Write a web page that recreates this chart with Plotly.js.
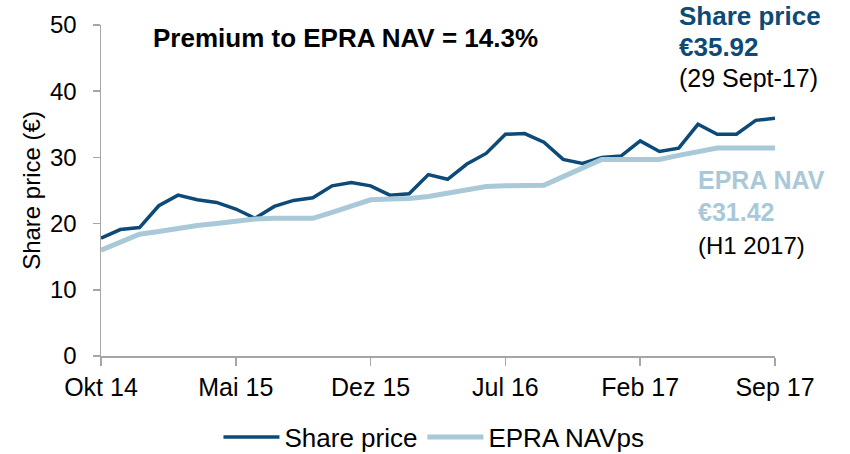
<!DOCTYPE html>
<html>
<head>
<meta charset="utf-8">
<script src="https://cdn.plot.ly/plotly-3.0.1.min.js"></script>
<style>
html,body{margin:0;padding:0;background:#fff;}
#chart{width:850px;height:454px;}
</style>
</head>
<body>
<div id="chart"></div>
<script>
const months = ["Okt 14","Nov 14","Dez 14","Jan 15","Feb 15","Mär 15","Apr 15","Mai 15","Jun 15","Jul 15","Aug 15","Sep 15",
  "Okt 15","Nov 15","Dez 15","Jan 16","Feb 16","Mär 16","Apr 16","Mai 16","Jun 16","Jul 16","Aug 16","Sep 16",
  "Okt 16","Nov 16","Dez 16","Jan 17","Feb 17","Mär 17","Apr 17","Mai 17","Jun 17","Jul 17","Aug 17","Sep 17"];
const sharePrice = [17.8,19.1,19.4,22.7,24.3,23.6,23.2,22.2,20.8,22.6,23.5,23.9,
  25.7,26.2,25.7,24.3,24.5,27.4,26.7,29.0,30.6,33.5,33.6,32.3,
  29.7,29.1,30.0,30.2,32.5,30.9,31.4,35.0,33.5,33.5,35.6,35.92];
const epraNav = [16.0,17.3,18.4,18.8,19.3,19.7,20.0,20.3,20.7,20.8,20.8,20.8,
  21.7,22.7,23.6,23.7,23.8,24.1,24.6,25.1,25.6,25.7,25.7,25.8,
  27.1,28.4,29.7,29.7,29.7,29.7,30.3,30.9,31.42,31.42,31.42,31.42];
const tickLabels = ["Okt 14","Mai 15","Dez 15","Jul 16","Feb 17","Sep 17"];
const yTicks = [0,10,20,30,40,50];

const DARK = '#0d4a78';
const LIGHT = '#a9c9d9';
const FONT = 'Liberation Sans, Arial, sans-serif';

const traces = [
  {x: months, y: sharePrice, type: 'scatter', mode: 'lines', name: 'Share price',
   line: {color: DARK, width: 3.5}},
  {x: months, y: epraNav, type: 'scatter', mode: 'lines', name: 'EPRA NAVps',
   line: {color: LIGHT, width: 5}}
];

const L = 101, T = 25, W = 674, H = 331;
function px(xp){ return (xp - L) / W; }
function py(yp){ return (T + H - yp) / H; }

const layout = {
  width: 850, height: 454,
  margin: {l: L, r: 850 - L - W, t: T, b: 454 - T - H},
  paper_bgcolor: '#fff', plot_bgcolor: '#fff',
  font: {family: FONT, size: 24, color: '#000'},
  showlegend: true,
  legend: {orientation: 'h', x: 0.494, xanchor: 'center', xref: 'paper',
           y: (454 - 437) / 454, yanchor: 'middle', yref: 'container',
           font: {size: 26, color: '#000'}, itemwidth: 56, traceorder: 'normal'},
  xaxis: {type: 'category', range: [0, 35], tickmode: 'array', tickvals: tickLabels, ticktext: tickLabels,
          showgrid: false, zeroline: false, showline: true, linecolor: '#a6a6a6', linewidth: 1.5,
          ticks: 'outside', ticklen: 8, tickcolor: '#a6a6a6', tickwidth: 1.5, automargin: false,
          tickfont: {size: 25, color: '#000'}, ticklabelstandoff: 0},
  yaxis: {range: [0, 50], tickmode: 'array', tickvals: yTicks, automargin: false,
          showgrid: false, zeroline: false, showline: true, linecolor: '#a6a6a6', linewidth: 1.5,
          ticks: 'outside', ticklen: 7, tickcolor: '#a6a6a6', tickwidth: 1.5,
          tickfont: {size: 24, color: '#000'}, ticklabelstandoff: 11,
          title: {text: 'Share price (€)', font: {size: 24, color: '#000'}, standoff: 2}},
  annotations: [
    {text: '<b>Premium to EPRA NAV = 14.3%</b>', xref: 'paper', yref: 'paper', x: px(151), y: py(38),
     xanchor: 'left', yanchor: 'middle', showarrow: false, font: {size: 26, color: '#000'}},
    {text: '<b>Share price</b>', xref: 'paper', yref: 'paper', x: px(677), y: py(16),
     xanchor: 'left', yanchor: 'middle', showarrow: false, font: {size: 26, color: DARK}},
    {text: '<b>€35.92</b>', xref: 'paper', yref: 'paper', x: px(677), y: py(47),
     xanchor: 'left', yanchor: 'middle', showarrow: false, font: {size: 26, color: DARK}},
    {text: '(29 Sept-17)', xref: 'paper', yref: 'paper', x: px(677), y: py(78),
     xanchor: 'left', yanchor: 'middle', showarrow: false, font: {size: 25, color: '#000'}},
    {text: '<b>EPRA NAV</b>', xref: 'paper', yref: 'paper', x: px(696), y: py(180),
     xanchor: 'left', yanchor: 'middle', showarrow: false, font: {size: 25, color: LIGHT}},
    {text: '<b>€31.42</b>', xref: 'paper', yref: 'paper', x: px(696), y: py(212),
     xanchor: 'left', yanchor: 'middle', showarrow: false, font: {size: 25, color: LIGHT}},
    {text: '(H1 2017)', xref: 'paper', yref: 'paper', x: px(696), y: py(245),
     xanchor: 'left', yanchor: 'middle', showarrow: false, font: {size: 24, color: '#000'}}
  ]
};

Plotly.newPlot('chart', traces, layout, {staticPlot: true, displayModeBar: false});
</script>
</body>
</html>
